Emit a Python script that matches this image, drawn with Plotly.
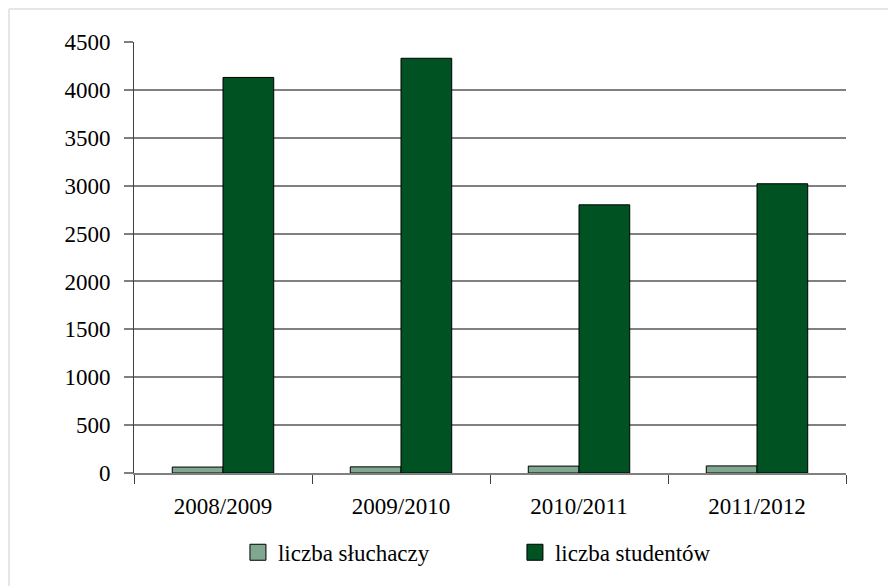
import plotly.graph_objects as go

years = ["2008/2009", "2009/2010", "2010/2011", "2011/2012"]
sluchacze = [62, 64, 72, 74]
studenci = [4130, 4330, 2800, 3020]

series_names = ["liczba słuchaczy", "liczba studentów"]
colors = ["#80a890", "#005223"]

FONT = "Liberation Serif"

fig = go.Figure()

for name, vals, col in zip(series_names, [sluchacze, studenci], colors):
    fig.add_trace(go.Bar(
        x=years,
        y=vals,
        name=name,
        marker=dict(color=col, line=dict(color="black", width=1)),
        showlegend=False,
    ))
    # legend proxy with larger square symbol
    fig.add_trace(go.Scatter(
        x=[None], y=[None],
        mode="markers",
        name=name,
        marker=dict(symbol="square", size=17, color=col,
                    line=dict(color="black", width=1)),
    ))

fig.update_layout(
    barmode="group",
    bargap=0.43,
    bargroupgap=0,
    width=896,
    height=586,
    margin=dict(l=126, r=58, t=34, b=121),
    plot_bgcolor="white",
    paper_bgcolor="white",
    font=dict(family=FONT, size=23, color="black"),
    legend=dict(
        orientation="h",
        x=0.146, xanchor="left",
        y=-0.184, yanchor="middle",
        entrywidth=232,
        font=dict(family=FONT, size=23),
        itemsizing="trace",
    ),
    xaxis=dict(
        showgrid=False,
        showline=True,
        linecolor="#808080",
        linewidth=1.5,
        ticks="outside",
        tickson="boundaries",
        ticklen=9,
        tickcolor="#404040",
        ticklabelstandoff=12,
        tickfont=dict(family=FONT, size=23),
    ),
    yaxis=dict(
        range=[0, 4500],
        dtick=500,
        showgrid=True,
        gridcolor="#808080",
        gridwidth=1.5,
        zeroline=False,
        showline=True,
        linecolor="#404040",
        linewidth=1,
        ticks="outside",
        ticklen=9,
        tickcolor="#808080",
        tickwidth=1.5,
        ticklabelstandoff=9,
        tickfont=dict(family=FONT, size=23),
    ),
    shapes=[
        dict(type="line", xref="paper", yref="paper",
             x0=-0.1756, x1=1.1, y0=1.0766, y1=1.0766,
             line=dict(color="#e6e6e6", width=2)),
        dict(type="line", xref="paper", yref="paper",
             x0=-0.1756, x1=-0.1756, y0=-0.3, y1=1.0766,
             line=dict(color="#e6e6e6", width=2)),
    ],
)

fig.write_html("out.html")
